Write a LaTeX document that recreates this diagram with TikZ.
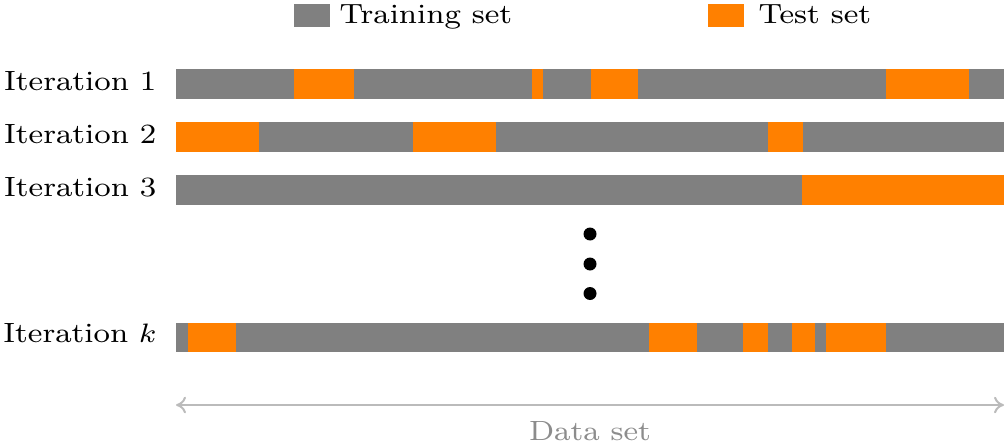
\documentclass[tikz,border=0pt]{standalone}
\usetikzlibrary{arrows.meta}
\definecolor{trgray}{HTML}{808080}
\definecolor{tsorange}{HTML}{FF8000}
\definecolor{axgray}{HTML}{BBBBBB}
\definecolor{dsgray}{HTML}{8C8C8C}
\newcommand\wtxt[1]{\scalebox{1.11}[1]{#1}}
\begin{document}
\begin{tikzpicture}[x=0.3pt,y=-0.3pt,
  lbl/.style={inner sep=0pt, font=\fontsize{8.35}{10}\selectfont},
  trainseg/.style={fill=trgray},
  testseg/.style={fill=tsorange}]
\useasboundingbox (0,0) rectangle (1007,446);

% legend
\fill[trainseg] (294,4) rectangle (330,27);
\node[lbl, anchor=base west] (ltrain) at (339,24) {\wtxt{Training set}};
\fill[testseg] (708,4) rectangle (744,27);
\node[lbl, anchor=base west] (ltest) at (758,24) {\wtxt{Test set}};

% iteration 1
\fill[trainseg] (176,69) rectangle (1004,99);
\foreach \a/\b in {294/354,532/543,591/638,886/969}
  \fill[testseg] (\a,69) rectangle (\b,99);
\node[lbl, anchor=base east] (it1) at (157,90.5) {\wtxt{Iteration 1}};

% iteration 2
\fill[trainseg] (176,122) rectangle (1004,152);
\foreach \a/\b in {176/259,413/496,768/803}
  \fill[testseg] (\a,122) rectangle (\b,152);
\node[lbl, anchor=base east] (it2) at (157,143.5) {\wtxt{Iteration 2}};

% iteration 3
\fill[trainseg] (176,175) rectangle (1004,205);
\fill[testseg] (802,175) rectangle (1004,205);
\node[lbl, anchor=base east] (it3) at (157,196.5) {\wtxt{Iteration 3}};

% dots
\foreach \y in {234,264,293.5}
  \fill[black] (590,\y) circle (6.5);

% iteration k
\fill[trainseg] (176,323) rectangle (1004,352);
\foreach \a/\b in {188/236,649/697,743/768,792/815,826/886}
  \fill[testseg] (\a,323) rectangle (\b,352);
\node[lbl, anchor=base east] (itk) at (157,342.5) {\wtxt{Iteration $k$}};

% data set axis
\coordinate (dl) at (176,405);
\coordinate (dr) at (1004,405);
\draw[axgray, line width=0.6pt, {To[length=3pt,width=5pt]}-{To[length=3pt,width=5pt]}] (dl) -- (dr);
\node[lbl, anchor=base, text=dsgray] (ds) at (590,440) {\wtxt{Data set}};
\end{tikzpicture}
\end{document}
